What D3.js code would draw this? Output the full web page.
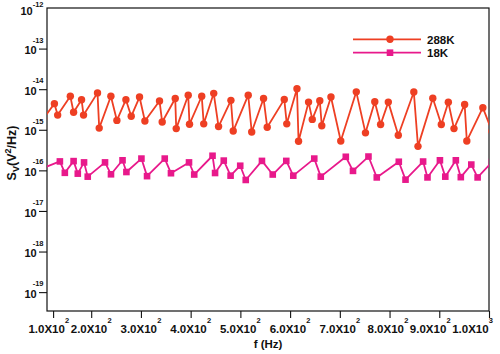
<!DOCTYPE html>
<html><head><meta charset="utf-8">
<script src="https://cdn.jsdelivr.net/npm/d3@7"></script>
<style>
body{margin:0;background:#fff;}
text{font-family:"Liberation Sans",Arial,sans-serif;font-weight:bold;fill:#111;}
</style>
</head><body>
<svg id="c" width="500" height="354"></svg>
<script>
// ---- data ----
const seriesNames = ["288K", "18K"];
const seriesColors = ["#EE3F23", "#E8198B"];
const freq288 = [75, 103.4, 112.0, 145.2, 153.8, 174.7, 179.9, 212.7, 216.1, 239.6, 251.7, 269.8, 280.5, 297.2, 308.0, 337.4, 342.8, 369, 371, 395.1, 397.7, 422.3, 426.3, 446.4, 456.1, 481.0, 485.6, 515.8, 522.8, 546.6, 554.0, 588.3, 593.3, 613.8, 617.0, 637.1, 644.6, 659.7, 663.7, 682.2, 701.9, 733.1, 751.6, 770.3, 782.0, 797.5, 817.6, 848.8, 857.2, 887.0, 904.1, 918.2, 929.6, 951.0, 955.4, 987.6, 1006];
const sv288 = [1.9e-15, 4.4e-15, 2.3e-15, 6.7e-15, 2.7e-15, 5.5e-15, 2.3e-15, 8.1e-15, 1.1e-15, 6.7e-15, 1.7e-15, 5.5e-15, 2.15e-15, 6.4e-15, 1.65e-15, 5.1e-15, 1.55e-15, 5.9e-15, 1.07e-15, 7.1e-15, 1.37e-15, 6.7e-15, 1.4e-15, 7.9e-15, 1.2e-15, 5.3e-15, 9.3e-16, 7.1e-15, 8.8e-16, 5.9e-15, 1.15e-15, 5.6e-15, 1.4e-15, 1.03e-14, 5.2e-16, 4.8e-15, 1.8e-15, 5.2e-15, 1.26e-15, 6.4e-15, 5.3e-16, 8.6e-15, 8.4e-16, 4.9e-15, 1.35e-15, 4.8e-15, 7.3e-16, 8.5e-15, 3.9e-16, 6.0e-15, 1.35e-15, 4.75e-15, 1.07e-15, 4.2e-15, 5.3e-16, 3.5e-15, 9.2e-16];
const freq18 = [75, 117.8, 130.8, 153.8, 164.8, 181.2, 190.9, 227.8, 239.8, 263.0, 270.8, 301.0, 312.3, 347.9, 360.4, 396.7, 407.2, 444.0, 449.1, 466.6, 480.3, 499.7, 510.8, 543.4, 565.1, 592.3, 606.4, 648.6, 661.7, 712.0, 726.5, 757.6, 774.3, 818.6, 832.1, 867.5, 876.3, 901.3, 912.1, 933.3, 943.3, 964.4, 977.1, 1006];
const sv18 = [1.16e-16, 1.66e-16, 8.7e-17, 1.69e-16, 8.3e-17, 1.57e-16, 7.0e-17, 1.57e-16, 8.0e-17, 1.77e-16, 9.1e-17, 1.95e-16, 7.2e-17, 1.95e-16, 8.5e-17, 1.57e-16, 7.9e-17, 2.29e-16, 8.6e-17, 1.74e-16, 7.4e-17, 1.30e-16, 5.8e-17, 1.71e-16, 7.9e-17, 1.71e-16, 7.4e-17, 1.95e-16, 7.0e-17, 2.16e-16, 9.7e-17, 2.19e-16, 6.7e-17, 1.63e-16, 5.9e-17, 1.65e-16, 6.7e-17, 1.77e-16, 7.0e-17, 1.77e-16, 6.8e-17, 1.39e-16, 6.7e-17, 1.6e-16];
const xTickValues = [100, 200, 300, 400, 500, 600, 700, 800, 900, 1000];
const xTickMantissa = ["1.0", "2.0", "3.0", "4.0", "5.0", "6.0", "7.0", "8.0", "9.0", "1.0"];
const xTickExp = ["2", "2", "2", "2", "2", "2", "2", "2", "2", "3"];
const yTickExp = [-12, -13, -14, -15, -16, -17, -18, -19];
const xTitle = "f (Hz)";

// ---- layout ----
const W = 500, H = 354;
const L = 47, R = 489, T = 8, B = 311;
const svg = d3.select("#c");

const x = d3.scaleLinear().domain([84, 200, 1000]).range([L, L + 0.1 * (R - L), R]);
const y = d3.scaleLog().domain([1e-12, Math.pow(10, -19.465)]).range([T, B]);

svg.append("defs").append("clipPath").attr("id", "clip")
  .append("rect").attr("x", L).attr("y", T).attr("width", R - L).attr("height", B - T);

// axes
const xAxis = svg.append("g").attr("transform", `translate(0,${B})`)
  .call(d3.axisBottom(x).tickValues(xTickValues).tickSize(7).tickFormat(""));
xAxis.select(".domain").remove();
xAxis.selectAll(".tick line").attr("stroke", "#111").attr("stroke-width", 1.1);

const yAxis = svg.append("g").attr("transform", `translate(${L},0)`)
  .call(d3.axisLeft(y).tickValues(yTickExp.slice(1).map(e => Math.pow(10, e))).tickSize(8).tickFormat(""));
yAxis.select(".domain").remove();
yAxis.selectAll(".tick line").attr("stroke", "#111").attr("stroke-width", 1.1);

// frame
svg.append("rect").attr("x", L).attr("y", T).attr("width", R - L).attr("height", B - T)
  .attr("fill", "none").attr("stroke", "#111").attr("stroke-width", 1.2);

// y tick labels (right edge just left of the axis)
yTickExp.forEach((e, i) => {
  const ty = y(Math.pow(10, e));
  const top = i === 0;
  const t = svg.append("text").attr("x", L - 3.5).attr("y", top ? ty + 7.3 : ty + 5.7)
    .attr("text-anchor", "end").style("font-size", "11px");
  t.append("tspan").text("10");
  t.append("tspan").attr("dx", top ? 0 : -4).attr("dy", top ? -8 : -11.6).style("font-size", "7.5px").text(String(e));
});

// x tick labels
const xl = xTickValues.map((v, i) => {
  const t = svg.append("text").attr("x", 0).attr("y", 332.7).style("font-size", "11.5px");
  t.append("tspan").text(xTickMantissa[i] + "X10");
  t.append("tspan").attr("dx", 0.2).attr("dy", -10).style("font-size", "7.5px").text(xTickExp[i]);
  const bb = t.node().getBBox();
  return {t, width: bb.width, left: x(v) - bb.width / 2};
});
// keep labels inside the chart and non-overlapping
let limit = W - 7;
for (let i = xl.length - 1; i >= 0; i--) {
  if (xl[i].left + xl[i].width > limit) xl[i].left = limit - xl[i].width;
  limit = xl[i].left - 1.5;
}
for (let i = 1; i < xl.length; i++) {
  const prevRight = xl[i - 1].left + xl[i - 1].width + 1.5;
  if (xl[i].left < prevRight) xl[i].left = prevRight;
}
xl.forEach(l => l.t.attr("x", l.left));

// axis titles
svg.append("text").attr("x", (L + R) / 2).attr("y", 348).attr("text-anchor", "middle")
  .style("font-size", "11.5px").text(xTitle);

const yt = svg.append("text").attr("transform", `translate(16,153) rotate(-90)`)
  .attr("text-anchor", "middle").style("font-size", "12.5px");
yt.append("tspan").text("S");
yt.append("tspan").attr("dy", 3).style("font-size", "9px").text("V");
yt.append("tspan").attr("dy", -3).text("(V");
yt.append("tspan").attr("dy", -5).style("font-size", "9px").text("2");
yt.append("tspan").attr("dy", 5).text("/Hz)");

// series
const series = [
  {name: seriesNames[0], color: seriesColors[0], f: freq288, v: sv288, shape: "circle"},
  {name: seriesNames[1], color: seriesColors[1], f: freq18, v: sv18, shape: "square"}
];
const plot = svg.append("g").attr("clip-path", "url(#clip)");
const line = d3.line().x(d => x(d[0])).y(d => y(d[1]));

function marker(g, shape, color, cx, cy) {
  if (shape === "circle") {
    g.append("circle").attr("cx", cx).attr("cy", cy).attr("r", 3.7).attr("fill", color);
  } else {
    g.append("rect").attr("x", cx - 3.3).attr("y", cy - 3.3).attr("width", 6.6).attr("height", 6.6).attr("fill", color);
  }
}

series.forEach(s => {
  const pts = s.f.map((f, i) => [f, s.v[i]]);
  plot.append("path").datum(pts).attr("d", line).attr("fill", "none")
    .attr("stroke", s.color).attr("stroke-width", 1.8).attr("stroke-linejoin", "round");
  pts.forEach(p => marker(plot, s.shape, s.color, x(p[0]), y(p[1])));
});

// legend
series.forEach((s, i) => {
  const ly = 39.3 + i * 13.4;
  svg.append("line").attr("x1", 353).attr("x2", 421).attr("y1", ly).attr("y2", ly)
    .attr("stroke", s.color).attr("stroke-width", 1.8);
  marker(svg, s.shape, s.color, 390, ly);
  svg.append("text").attr("x", 427).attr("y", ly + 4.2).style("font-size", "11.5px").text(s.name);
});
</script>
</body></html>
